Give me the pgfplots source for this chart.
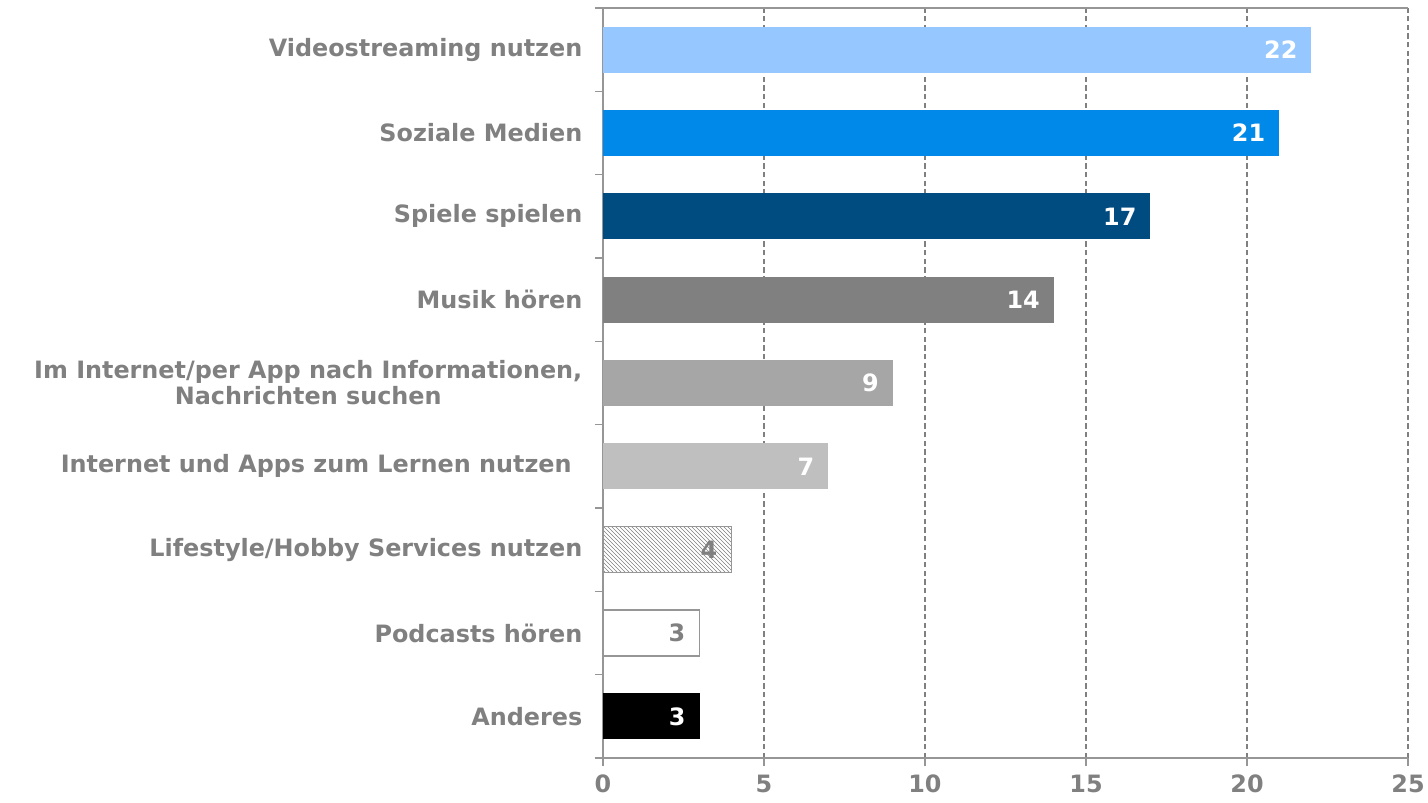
\documentclass[border=0pt]{standalone}
\usepackage{pgfplots}
\pgfplotsset{compat=1.18}
\usepackage{fontspec}
\setmainfont{DejaVu Sans}
\usetikzlibrary{patterns}
\definecolor{txtgray}{RGB}{128,128,128}
\definecolor{axgray}{RGB}{150,150,150}
\definecolor{gridgray}{RGB}{128,128,128}
\definecolor{cA}{RGB}{150,200,255}
\definecolor{cB}{RGB}{0,137,232}
\definecolor{cC}{RGB}{0,75,128}
\definecolor{cD}{RGB}{128,128,128}
\definecolor{cE}{RGB}{166,166,166}
\definecolor{cF}{RGB}{191,191,191}
\newcommand{\lblfont}{\bfseries\fontsize{17.9}{19.5}\selectfont}
\begin{document}
\begin{tikzpicture}
\begin{axis}[
  name=ax,
  scale only axis,
  width=603.75pt, height=562.5pt,
  xbar, bar width=34.5pt, bar shift=0pt,
  xmin=0, xmax=25, ymin=-0.5, ymax=8.5,
  axis lines=left,
  axis line style={draw=axgray, line width=1.2pt, -},
  xtick={0,5,10,15,20,25},
  xmajorgrids,
  grid style={gridgray, line width=0.9pt, dash pattern=on 4pt off 2.5pt},
  tick align=outside,
  major tick length=6pt,
  tick style={draw=axgray, line width=1.2pt},
  xticklabel style={text=txtgray, font=\lblfont, yshift=-3pt},
  /pgf/number format/assume math mode=true,
  ytick={-0.5,0.5,...,7.5},
  extra y ticks={8.5},
  extra y tick labels={},
  yticklabels={Anderes,Podcasts hören,Lifestyle/Hobby Services nutzen,{Internet und Apps zum Lernen nutzen\hspace*{8pt}},{Im Internet/per App nach Informationen,\\Nachrichten suchen},Musik hören,Spiele spielen,Soziale Medien,Videostreaming nutzen},
  yticklabel style={text=txtgray, font=\lblfont, align=center, yshift=31.25pt, xshift=-6pt},
  point meta=x,
  nodes near coords,
  nodes near coords style={anchor=east, font=\lblfont, text=white, xshift=-7pt},
  clip=false,
]
\addplot[fill=cA, draw=none] coordinates {(22,8)};
\addplot[fill=cB, draw=none] coordinates {(21,7)};
\addplot[fill=cC, draw=none] coordinates {(17,6)};
\addplot[fill=cD, draw=none] coordinates {(14,5)};
\addplot[fill=cE, draw=none] coordinates {(9,4)};
\addplot[fill=cF, draw=none] coordinates {(7,3)};
\addplot[pattern=north west lines, pattern color=gray, draw=axgray, line width=1pt,
  nodes near coords style={text=txtgray}] coordinates {(4,2)};
\addplot[fill=white, draw=axgray, line width=1pt,
  nodes near coords style={text=txtgray}] coordinates {(3,1)};
\addplot[fill=black, draw=none] coordinates {(3,0)};
\draw[axgray, line width=1pt] (rel axis cs:0,1) -- (rel axis cs:1,1);
\end{axis}
\pgfresetboundingbox
\path ([xshift=-452.25pt,yshift=-33.75pt]ax.south west) rectangle ([xshift=15pt,yshift=6pt]ax.north east);
\end{tikzpicture}
\end{document}
